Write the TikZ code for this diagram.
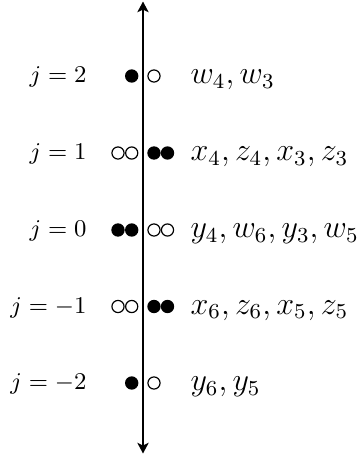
\documentclass[tikz,border=0pt]{standalone}
\usetikzlibrary{arrows.meta}
\begin{document}
\begin{tikzpicture}[x=0.3745pt,y=-0.3745pt,
  full/.style={circle,fill=black,minimum size=5pt,inner sep=0pt},
  hollow/.style={circle,draw=black,line width=0.45pt,minimum size=4.55pt,inner sep=0pt},
  lab/.style={anchor=base east,inner sep=0pt,font=\small},
  vars/.style={anchor=base west,inner sep=0pt,font=\large},
  axis/.style={line width=1.1pt,{Stealth[length=4pt,width=4.2pt,inset=1pt]}-{Stealth[length=4pt,width=4.2pt,inset=1pt]}}]
\useasboundingbox (0,0) rectangle (358,457);
\coordinate (top) at (143,1.5);
\coordinate (bot) at (143,453.5);
\draw[axis] (bot) -- (top);
% row j=2
\node[lab] (l2) at (87,82.5) {$j=2$};
\node[full] (a2) at (131.7,76) {};
\node[hollow] (b2) at (154,76) {};
\node[vars] (r2) at (190,83.5) {$w_4, w_3$};
% row j=1
\node[lab] (l1) at (87,159.5) {$j=1$};
\node[hollow] (a1) at (118,153) {};
\node[hollow] (b1) at (131.7,153) {};
\node[full] (c1) at (154,153) {};
\node[full] (d1) at (167.5,153) {};
\node[vars] (r1) at (190,160.5) {$x_4, z_4, x_3, z_3$};
% row j=0
\node[lab] (l0) at (87,236.5) {$j=0$};
\node[full] (a0) at (118,230) {};
\node[full] (b0) at (131.7,230) {};
\node[hollow] (c0) at (154,230) {};
\node[hollow] (d0) at (167.5,230) {};
\node[vars] (r0) at (190,237.5) {$y_4, w_6, y_3, w_5$};
% row j=-1
\node[lab] (lm1) at (87,313) {$j=-1$};
\node[hollow] (am1) at (118,306.5) {};
\node[hollow] (bm1) at (131.7,306.5) {};
\node[full] (cm1) at (154,306.5) {};
\node[full] (dm1) at (167.5,306.5) {};
\node[vars] (rm1) at (190,314) {$x_6, z_6, x_5, z_5$};
% row j=-2
\node[lab] (lm2) at (87,389.5) {$j=-2$};
\node[full] (am2) at (131.7,383) {};
\node[hollow] (bm2) at (154,383) {};
\node[vars] (rm2) at (190,390.5) {$y_6, y_5$};
\end{tikzpicture}
\end{document}
